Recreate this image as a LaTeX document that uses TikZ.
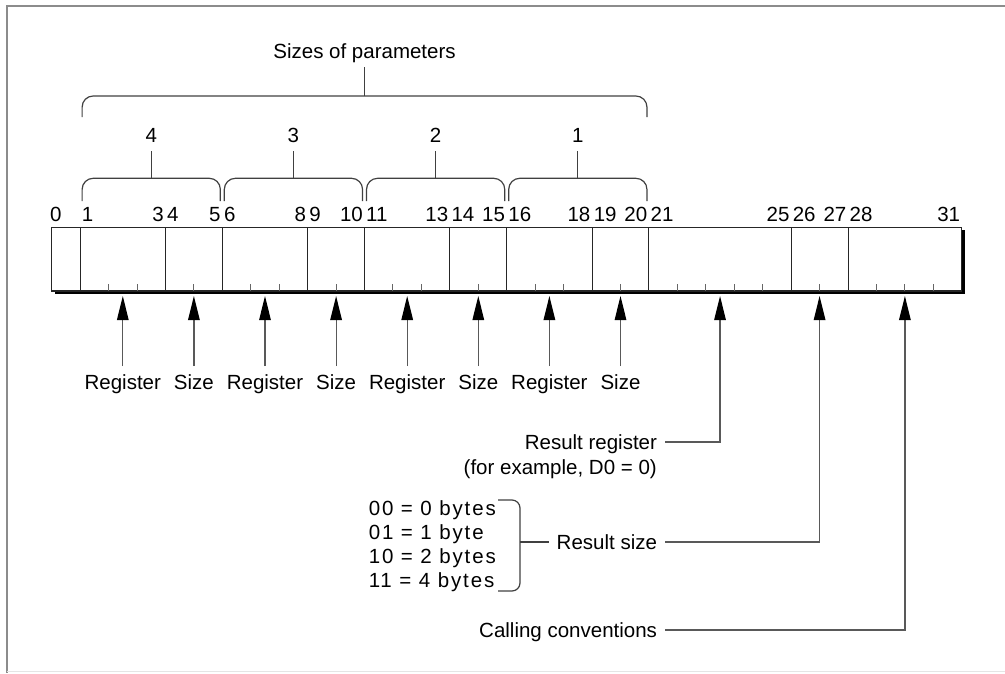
\documentclass[tikz,border=0pt]{standalone}
\usepackage{fontspec}
\setmainfont{Liberation Sans}
\usetikzlibrary{arrows.meta}

\newcommand\labfont{\fontsize{20.5}{24}\selectfont}
\newcommand\valfont{\fontsize{20.5}{24}\selectfont\addfontfeature{LetterSpace=9}}
\def\bl{51.7}  % left edge of the register
\def\bw{28.44} % width of one bit

\tikzset{
  field/.style={draw=black!85, line width=1.05pt, inner sep=0pt, outer sep=0pt,
                minimum height=63.7pt, anchor=north west},
  tick/.style={draw=black!60, line width=1pt},
  brk/.style={draw=black!75, line width=1.2pt, rounded corners=11pt},
  stem/.style={draw=black!75, line width=1.2pt},
  txt/.style={inner sep=0pt, text height=14.5pt, text depth=0pt, font=\labfont},
  head/.style={txt, outer ysep=8.5pt},
  lbl/.style={txt, outer ysep=8.5pt},
  tag/.style={txt, outer xsep=8pt},
  arr/.style={draw=black!65, line width=1.2pt,
              -{Triangle[length=24pt,width=11.5pt,color=black]}, shorten >=5pt},
  lead/.style={draw=black!75, line width=1.1pt},
}

\begin{document}
\begin{tikzpicture}[x=1pt,y=-1pt]
\useasboundingbox (0,0) rectangle (1005,673);

% page frame
\draw[black!45, line width=1.5pt] (1005,6) -- (7,6) -- (7,673);
\draw[black!10, line width=1.5pt] (7,671.5) -- (1005,671.5);

% shadow of the register
\draw[black, line width=3.4pt] (55,292.6) -| (963.3,230);

% bit fields
\foreach \s/\n in {0/1,1/3,4/2,6/3,9/2,11/3,14/2,16/3,19/2,21/5,26/2,28/4}
  \node[field, minimum width={\n*\bw}] (f\s) at ({\bl+\bw*\s},227.3) {};

% bit ticks inside the fields
\foreach \t in {2,3,5,7,8,10,12,13,15,17,18,20,22,23,24,25,27,29,30,31}
  \draw[tick] ({\bl+\bw*\t},284) -- ({\bl+\bw*\t},291);

% bit numbers
\node[txt, anchor=base west] (n0) at (50,221) {0};
\foreach \s in {1,4,6,9,11,14,16,19,21,26,28}
  \node[txt, anchor=base west] (n\s) at ({\bl+\bw*\s+1.5},221) {\s};
\foreach \e in {3,5,8,10,13,15,18,20,25,27,31}
  \node[txt, anchor=base east] (n\e) at ({\bl+\bw*(\e+1)-1.5},221) {\e};

% braces for the parameter sizes
\foreach \a/\b/\t in {1/5/4,6/10/3,11/15/2,16/20/1} {
  \draw[brk] ({\bl+\bw*\a+2},201) |- ({\bl+\bw*(\a+\b+1)/2},178.3)
             -| ({\bl+\bw*(\b+1)-2},201);
  \coordinate (c\t) at ({\bl+\bw*(\a+\b+1)/2},178.3);
  \node[head, anchor=base] (g\t) at ({\bl+\bw*(\a+\b+1)/2},142) {\t};
  \draw[stem] (c\t) -- (g\t.south);
}

% overall brace
\draw[brk] ({\bl+\bw+2},117) |- ({\bl+\bw*11},96) -| ({\bl+\bw*21-2},117);
\coordinate (call) at ({\bl+\bw*11},96);
\node[head, anchor=base] (sizes) at ({\bl+\bw*11},58) {Sizes of parameters};
\draw[stem] (call) -- (sizes.south);

% register and size arrows
\foreach \s/\n/\t in {1/3/Register,4/2/Size,6/3/Register,9/2/Size,
                      11/3/Register,14/2/Size,16/3/Register,19/2/Size} {
  \node[lbl, anchor=base] (l\s) at ({\bl+\bw*(\s+\n/2)},389) {\t};
  \draw[arr] (l\s.north) -- (f\s.south);
}

% result register
\node[tag, anchor=east] (rr) at (665,442) {Result register};
\node[txt, anchor=base east] (rrx) at (657,474) {(for example, D0 = 0)};
\draw[arr] (rr.east) -| (f21.south);

% result size with its values
\node[align=left, inner sep=0pt, anchor=north east, font=\valfont] (vals)
  at (496,500) {00 = 0 bytes\\01 = 1 byte\\10 = 2 bytes\\11 = 4 bytes};
\draw[brk, rounded corners=8pt] (498,500) -| (520,591) -- (498,591);
\coordinate (bm) at (520,542);
\node[tag, anchor=east] (rs) at (665,542) {Result size};
\draw[lead] (bm) -- (rs.west);
\draw[arr] (rs.east) -| (f26.south);

% calling conventions
\node[tag, anchor=east] (cc) at (665,630) {Calling conventions};
\draw[arr] (cc.east) -| (f28.south);
\end{tikzpicture}
\end{document}
